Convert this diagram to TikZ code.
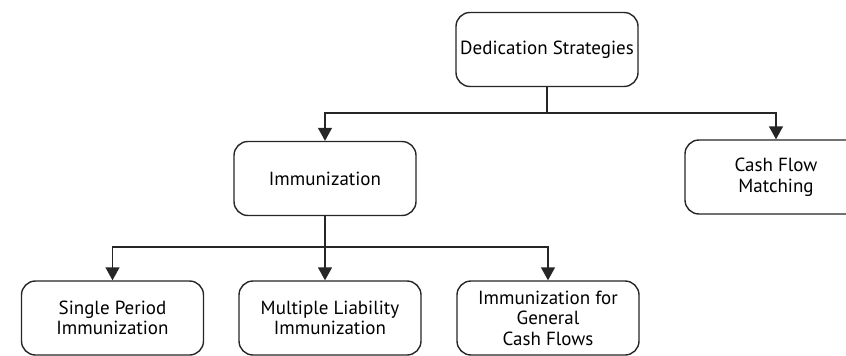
\documentclass[tikz,border=0pt]{standalone}
\usepackage{fontspec}
\setmainfont{PT Sans}
\usetikzlibrary{arrows.meta}
\begin{document}
\begin{tikzpicture}[x=1pt,y=-1pt,
  box/.style={draw=black!85, line width=1.4pt, rounded corners=14pt, fill=white,
    minimum width=182pt, minimum height=74pt, align=center, inner sep=1pt,
    font=\fontsize{19}{20.5}\selectfont},
  arr/.style={line width=1.4pt, draw=black!85, -{Triangle[width=14pt,length=13pt]}},
  ln/.style={line width=1.4pt, draw=black!85}]
\useasboundingbox (0,0) rectangle (846,356);
\clip (0,0) rectangle (846,356);
\node[box] (ded) at (547,49.5) {Dedication Strategies};
\node[box] (imm) at (325,178.5) {Immunization};
\node[box] (cfm) at (776,177) {Cash Flow\\Matching};
\node[box] (sp) at (112.5,318) {Single Period\\Immunization};
\node[box] (ml) at (330,318) {Multiple Liability\\Immunization};
\node[box] (gen) at (548,318) {Immunization for\\General\\Cash Flows};
\coordinate (j1) at (547,113);
\coordinate (j2) at (325,247);
\draw[ln] (ded.south) -- (j1);
\draw[arr] (j1) -| (imm.north);
\draw[arr] (j1) -| (cfm.north);
\draw[arr] (imm.south) -- (imm.south |- ml.north);
\draw[arr] (j2) -| (sp.north);
\draw[arr] (j2) -| (gen.north);
\end{tikzpicture}
\end{document}
